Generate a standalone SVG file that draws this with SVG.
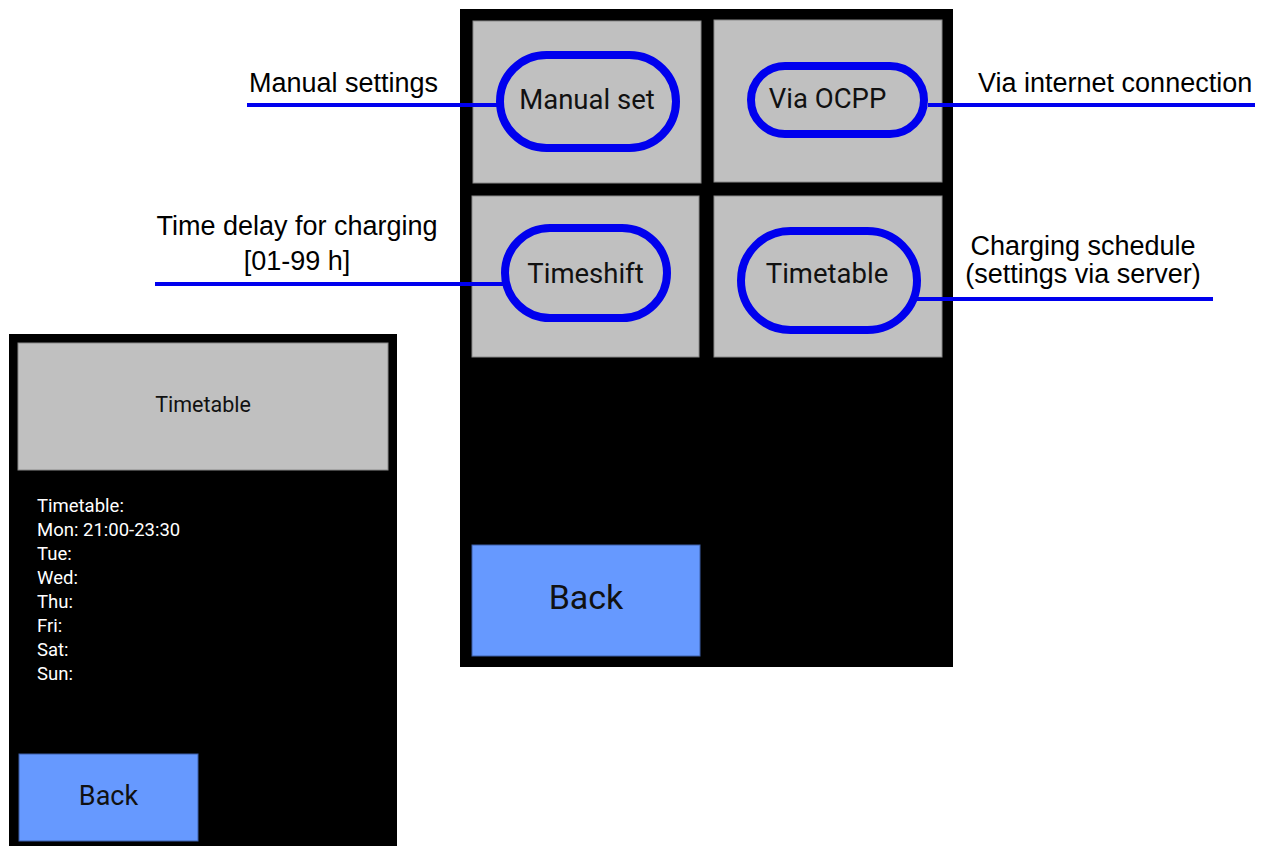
<svg xmlns="http://www.w3.org/2000/svg" width="1272" height="846" viewBox="0 0 1272 846">
<style>
.panel{fill:#000}
.btn{fill:#c0c0c0;stroke:#8a8a8a;stroke-width:1}
.back{fill:#6699ff;stroke:#3d5fa8;stroke-width:1}
.oval{fill:none;stroke:#0000ee;stroke-width:8}
.conn{stroke:#0000ee;stroke-width:4;fill:none}
.ui{font-family:Roboto,"Noto Sans",sans-serif;fill:#111}
.lbl{font-family:"Liberation Sans",Arial,sans-serif;font-size:27px;fill:#000}
.list{font-family:Roboto,"Noto Sans",sans-serif;font-size:18.5px;fill:#fff}
</style>
<rect width="1272" height="846" fill="#fff"/>
<g id="main-screen">
<rect class="panel" x="460" y="9" width="493" height="658"/>
</g>
<g id="btn-manual">
<rect class="btn" x="473" y="21" width="228" height="162"/>
</g>
<g id="btn-ocpp">
<rect class="btn" x="714" y="20" width="228" height="162"/>
</g>
<g id="btn-timeshift">
<rect class="btn" x="472" y="196" width="227" height="161"/>
</g>
<g id="btn-timetable">
<rect class="btn" x="714" y="196" width="228" height="161"/>
</g>
<g id="btn-back-main">
<rect class="back" x="472" y="545" width="228" height="111"/>
<text class="ui" x="586" y="609" font-size="34" text-anchor="middle">Back</text>
</g>
<g id="timetable-screen">
<rect class="panel" x="9" y="334" width="388" height="512"/>
<rect class="btn" x="18" y="343" width="370" height="127"/>
<text class="ui" x="203" y="412" font-size="21.5" text-anchor="middle">Timetable</text>
<text class="list" x="37" y="512">Timetable:</text>
<text class="list" x="37" y="536">Mon: 21:00-23:30</text>
<text class="list" x="37" y="560">Tue:</text>
<text class="list" x="37" y="584">Wed:</text>
<text class="list" x="37" y="608">Thu:</text>
<text class="list" x="37" y="632">Fri:</text>
<text class="list" x="37" y="656">Sat:</text>
<text class="list" x="37" y="680">Sun:</text>
</g>
<g id="btn-back-timetable">
<rect class="back" x="19" y="754" width="179" height="87"/>
<text class="ui" x="108.5" y="805" font-size="27" text-anchor="middle">Back</text>
</g>
<g id="connectors">
<line class="conn" x1="247" y1="105" x2="500" y2="105"/>
<line class="conn" x1="155" y1="284" x2="505" y2="284"/>
<line class="conn" x1="928" y1="105" x2="1255" y2="105"/>
<line class="conn" x1="917" y1="299" x2="1213" y2="299"/>
</g>
<g id="oval-manual">
<rect class="oval" x="500" y="55" width="176" height="93" rx="46.5"/>
<text class="ui" x="587" y="109" font-size="27.5" text-anchor="middle">Manual set</text>
</g>
<g id="oval-ocpp">
<rect class="oval" x="751" y="66" width="173" height="68" rx="34"/>
<text class="ui" x="827.5" y="108" font-size="27.5" text-anchor="middle">Via OCPP</text>
</g>
<g id="oval-timeshift">
<rect class="oval" x="505" y="228" width="162" height="90" rx="45"/>
<text class="ui" x="585.5" y="283" font-size="27.5" text-anchor="middle">Timeshift</text>
</g>
<g id="oval-timetable">
<rect class="oval" x="741" y="231" width="176" height="99" rx="49.5"/>
<text class="ui" x="827" y="283" font-size="27.5" text-anchor="middle">Timetable</text>
</g>
<g id="label-manual">
<text class="lbl" x="438" y="92" text-anchor="end">Manual settings</text>
</g>
<g id="label-timeshift">
<text class="lbl" x="297" y="235" text-anchor="middle">Time delay for charging</text>
<text class="lbl" x="297" y="270" text-anchor="middle">[01-99 h]</text>
</g>
<g id="label-ocpp">
<text class="lbl" x="978" y="92">Via internet connection</text>
</g>
<g id="label-timetable">
<text class="lbl" x="1083" y="255" text-anchor="middle">Charging schedule</text>
<text class="lbl" x="1083" y="283" text-anchor="middle">(settings via server)</text>
</g>
</svg>
